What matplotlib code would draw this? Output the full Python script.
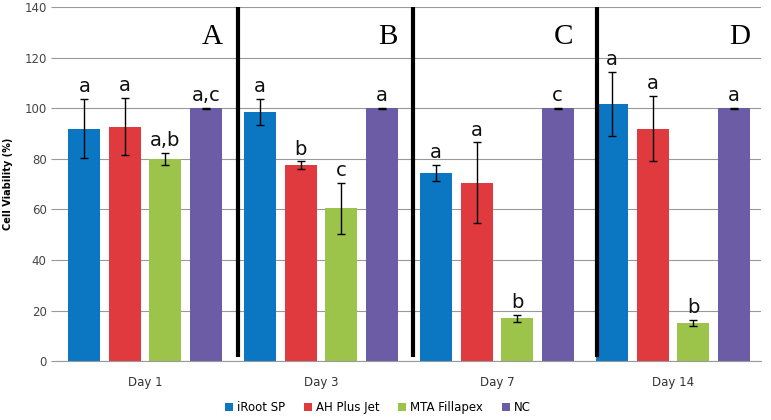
import matplotlib.pyplot as plt
import numpy as np

days = ['Day 1', 'Day 3', 'Day 7', 'Day 14']
groups = ['iRoot SP', 'AH Plus Jet', 'MTA Fillapex', 'NC']
colors = ['#0b77c2', '#e03a3e', '#9cc34a', '#6b5ca5']

# mean cell viability (%) per group, one value per day
iroot = [92.0, 98.4, 74.4, 101.8]
ahplus = [92.8, 77.5, 70.5, 92.0]
mta = [79.9, 60.4, 16.9, 15.1]
nc = [100.0, 100.0, 100.0, 100.0]

iroot_err = [11.8, 5.2, 3.3, 12.7]
ahplus_err = [11.3, 1.5, 16.0, 13.0]
mta_err = [2.5, 10.0, 1.3, 1.2]
nc_err = [0.2, 0.2, 0.2, 0.2]

letters = [['a', 'a', 'a', 'a'],
           ['a', 'b', 'a', 'a'],
           ['a,b', 'c', 'b', 'b'],
           ['a,c', 'a', 'c', 'a']]
panels = ['A', 'B', 'C', 'D']

means = [iroot, ahplus, mta, nc]
errs = [iroot_err, ahplus_err, mta_err, nc_err]

fig = plt.figure(figsize=(7.71, 4.20), dpi=100)
ax = fig.add_axes([0.074, 0.140, 0.913, 0.843])

x = np.arange(len(days))
offsets = [-0.345, -0.115, 0.115, 0.345]
width = 0.18
for i in range(4):
    ax.bar(x + offsets[i], means[i], width, color=colors[i], label=groups[i], zorder=2)
    ax.errorbar(x + offsets[i], means[i], yerr=errs[i], fmt='none', ecolor='k',
                elinewidth=1, capsize=3, capthick=1, zorder=3)
    for j in range(4):
        top = means[i][j] + errs[i][j]
        ax.annotate(letters[i][j], (x[j] + offsets[i], top), xytext=(0, 2),
                    textcoords='offset points', ha='center', va='bottom',
                    fontsize=14, color='#111111', zorder=4)

# panel separators
for sx in [0.53, 1.52, 2.57]:
    ax.plot([sx, sx], [1.5, 140], color='k', linewidth=3, zorder=4, solid_capstyle='butt')

for j, p in enumerate(panels):
    ax.text(j + 0.38, 128, p, fontsize=21, family='Liberation Serif', ha='center', va='center')

ax.set_xlim(-0.5, 3.5)
ax.set_ylim(0, 140)
ax.set_yticks(np.arange(0, 141, 20))
ax.set_xticks(x)
ax.set_xticklabels(days, fontsize=8.5, color='#333333')
ax.tick_params(axis='x', length=0, pad=11)
ax.tick_params(axis='y', labelsize=8.5, labelcolor='#444444', length=4, color='#999999')
ax.yaxis.grid(True, color='#999999', linewidth=0.8, zorder=0)
ax.set_axisbelow(True)
for s in ['top', 'right', 'left']:
    ax.spines[s].set_visible(False)
ax.spines['bottom'].set_color('#999999')
ax.set_ylabel('Cell Viability (%)', fontsize=7, fontweight='bold', labelpad=8)

fig.legend(loc='lower center', bbox_to_anchor=(0.49, -0.012), ncol=4, frameon=False,
           fontsize=8.5, handlelength=0.7, handleheight=0.7, handletextpad=0.3,
           columnspacing=1.6)

fig.savefig('out.png', dpi=100)
